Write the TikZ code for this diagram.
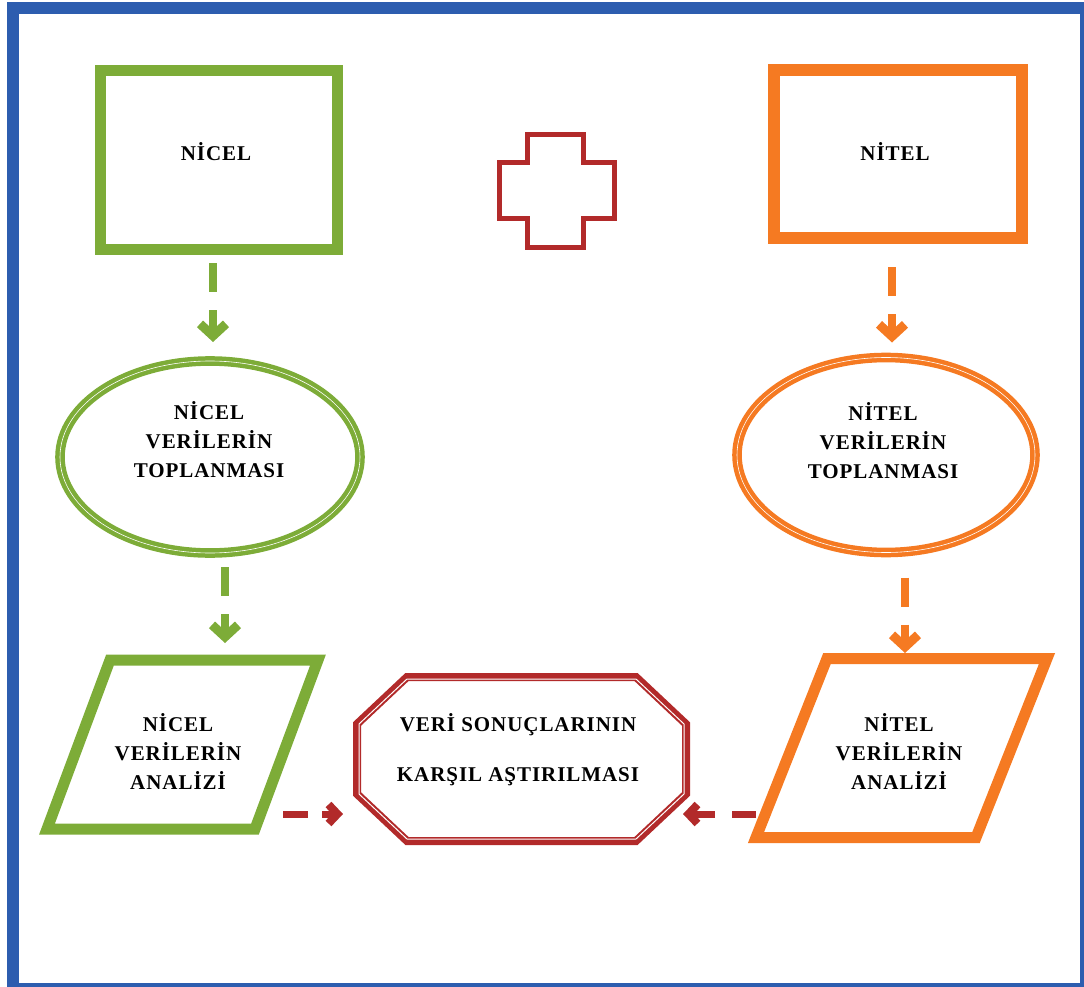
\documentclass[tikz,border=0pt]{standalone}
\usepackage{fontspec}
\setmainfont{Liberation Serif}[LetterSpace=4.5]
\usetikzlibrary{arrows.meta,shapes.geometric}

\definecolor{nicelgreen}{RGB}{125,172,56}
\definecolor{nitelorange}{RGB}{245,122,34}
\definecolor{resultred}{RGB}{178,42,42}
\definecolor{frameblue}{RGB}{45,93,175}

\begin{document}
\begin{tikzpicture}[x=1pt,y=-1pt,
    txt/.style={font=\bfseries\fontsize{21}{29}\selectfont,align=center,inner sep=0pt},
    holder/.style={rectangle,inner sep=0pt,outer sep=0pt},
    oval/.style={draw,ellipse,inner sep=0pt,outer sep=0pt,line width=4.5pt,double=white,double distance=0.6pt},
    slant/.style={line width=11pt},
    flow/.style={line width=8pt,dash pattern=on 29pt off 18pt on 80pt,-{Straight Barb[length=12pt,width=26pt,line width=9pt]}},
    tocompare/.style={resultred,line width=7pt,-{Straight Barb[length=9pt,width=19pt,line width=8pt]}}]
    %% Karma yontem akisi

    % Canvas
    \useasboundingbox (0,0) rectangle (1084,987);
    \draw[frameblue,line width=12pt] (13,8.5) rectangle (1086,989);

    % Top boxes
    \node[holder,draw=nicelgreen,line width=11pt,minimum width=237pt,minimum height=178pt]
    (nicelBox) at (218.5,160) {};
    \node[txt] (nicelBoxTxt) at (216,152) {NİCEL};
    \node[holder,draw=nitelorange,line width=12pt,minimum width=248pt,minimum height=167pt]
    (nitelBox) at (898,154) {};
    \node[txt] (nitelBoxTxt) at (895,152) {NİTEL};

    % Plus sign
    \draw[resultred,line width=5pt]
    (527.5,134.5) -- (583.5,134.5) -- (583.5,162.5) -- (614.5,162.5)
    -- (614.5,218.5) -- (583.5,218.5) -- (583.5,247.5) -- (527.5,247.5)
    -- (527.5,218.5) -- (499.5,218.5) -- (499.5,162.5) -- (527.5,162.5) -- cycle;

    % Data collection
    \node[oval,nicelgreen,minimum width=300pt,minimum height=192pt] (nicelTop) at (210,457) {};
    \node[txt] (nicelTopTxt) at (209,440) {NİCEL\\VERİLERİN\\TOPLANMASI};
    \node[oval,nitelorange,minimum width=298pt,minimum height=195pt] (nitelTop) at (886,455) {};
    \node[txt] (nitelTopTxt) at (883,441) {NİTEL\\VERİLERİN\\TOPLANMASI};

    % Analysis
    \node[holder,minimum width=208pt,minimum height=169pt] (nicelAn) at (182.5,744.5) {};
    \draw[slant,nicelgreen]
    ([xshift=31.5pt]nicelAn.north west) -- ([xshift=31.5pt]nicelAn.north east)
    -- ([xshift=-31.5pt]nicelAn.south east) -- ([xshift=-31.5pt]nicelAn.south west) -- cycle;
    \node[txt] (nicelAnTxt) at (178,751) {NİCEL\\VERİLERİN\\ANALİZİ};

    \node[holder,minimum width=220pt,minimum height=179pt] (nitelAn) at (901.5,748) {};
    \draw[slant,nitelorange]
    ([xshift=35.5pt]nitelAn.north west) -- ([xshift=35.5pt]nitelAn.north east)
    -- ([xshift=-35.5pt]nitelAn.south east) -- ([xshift=-35.5pt]nitelAn.south west) -- cycle;
    \node[txt] (nitelAnTxt) at (899,751) {NİTEL\\VERİLERİN\\ANALİZİ};

    % Comparison
    \node[holder,minimum width=329pt,minimum height=164pt] (compare) at (521.5,759) {};
    \def\octpath#1{([xshift=50pt,yshift=-#1]compare.north west)
      -- ([xshift=-50pt,yshift=-#1]compare.north east)
      -- ([xshift=-#1,yshift=-47pt]compare.north east)
      -- ([xshift=-#1,yshift=47pt]compare.south east)
      -- ([xshift=-50pt,yshift=#1]compare.south east)
      -- ([xshift=50pt,yshift=#1]compare.south west)
      -- ([xshift=#1,yshift=47pt]compare.south west)
      -- ([xshift=#1,yshift=-47pt]compare.north west) -- cycle}
    \draw[resultred,line width=8pt] \octpath{0pt};
    \draw[white,line width=1pt] \octpath{2pt};
    \node[txt] (compareTxt) at (518,750) {VERİ SONUÇLARININ\\[21pt]KARŞIL AŞTIRILMASI};

    % Arrows
    \coordinate (g1) at ([xshift=-5.5pt,yshift=-14pt]nicelBox.south);
    \draw[flow,nicelgreen,shorten >=19pt] (g1) -- (g1 |- nicelTop.north);
    \coordinate (g2) at ([xshift=15pt,yshift=-14pt]nicelTop.south);
    \draw[flow,nicelgreen,shorten >=17pt] (g2) -- (g2 |- nicelAn.north);
    \coordinate (o1) at ([xshift=-6pt,yshift=-29.5pt]nitelBox.south);
    \draw[flow,nitelorange,shorten >=15pt] (o1) -- (o1 |- nitelTop.north);
    \coordinate (o2) at ([xshift=19pt,yshift=-25pt]nitelTop.south);
    \draw[flow,nitelorange,shorten >=5.5pt] (o2) -- (o2 |- nitelAn.north);

    \coordinate (lIn) at ([yshift=-55pt]compare.west);
    \draw[tocompare,dash pattern=on 25pt off 14pt on 60pt,shorten <=-3.5pt,shorten >=14pt]
    (nicelAn.east |- lIn) -- (lIn);
    \coordinate (rIn) at ([yshift=-55pt]compare.east);
    \draw[tocompare,dash pattern=on 24pt off 17pt on 60pt,shorten <=35.5pt,shorten >=-3pt]
    (nitelAn.west |- rIn) -- (rIn);

\end{tikzpicture}
\end{document}
